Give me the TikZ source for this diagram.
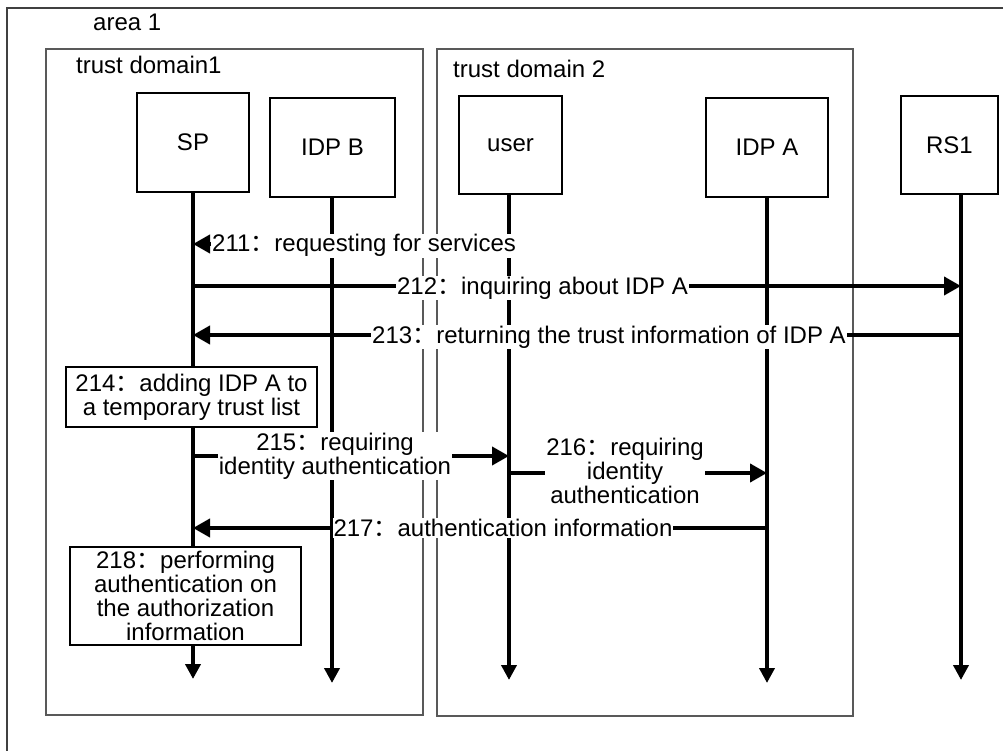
\documentclass[tikz,border=0pt]{standalone}
\usepackage{fontspec}
\setmainfont{Liberation Sans}
\newfontfamily\cjkfont{Noto Sans CJK SC}
\usetikzlibrary{arrows.meta}
\newcommand{\fwc}{{\cjkfont ：}}
\begin{document}
\begin{tikzpicture}[x=1pt,y=-1pt,
  font=\fontsize{24}{24}\selectfont,
  actor/.style={draw, line width=1.6pt, inner sep=0pt},
  life/.style={line width=4pt, -{Triangle[length=15pt,width=15pt]}},
  msg/.style={line width=4pt, -{Triangle[length=17pt,width=18pt]}},
  lbl/.style={fill=white, inner sep=1pt, align=center},
  trustbox/.style={draw=black!65, line width=1.5pt},
  note/.style={draw, line width=1.6pt, fill=white, align=center, inner sep=0pt}
]
\useasboundingbox (0,0) rectangle (1005,751);
\fill[white] (0,0) rectangle (1005,751);

% area frame (open at right and bottom, cropped)
\draw[black!75, line width=1.5pt] (1003,8) -- (7,8) -- (7,751);
\node[anchor=base west, inner sep=0pt] (area) at (93,31) {area 1};

% trust domains
\draw[trustbox] (46,49) rectangle (423,715);
\draw[trustbox] (437,49) rectangle (853,716);
\node[anchor=base west, inner sep=0pt] (td1) at (76,74) {trust domain1};
\node[anchor=base west, inner sep=0pt] (td2) at (453,78) {trust domain 2};

% actors
\node[actor, minimum width=112pt, minimum height=99pt] (SP) at (193,142.5) {SP};
\node[actor, minimum width=125pt, minimum height=99pt] (IDPB) at (332.5,147.5) {IDP B};
\node[actor, minimum width=103pt, minimum height=98pt] (user) at (510.5,145) {user};
\node[actor, minimum width=122pt, minimum height=99pt] (IDPA) at (767,147.5) {IDP A};
\node[actor, minimum width=97pt, minimum height=98pt] (RS1) at (949.5,145) {RS1};

% lifeline ends
\coordinate (spE) at (193,679);
\coordinate (ibE) at (332,683);
\coordinate (uE) at (509,680);
\coordinate (iaE) at (767,683);
\coordinate (rsE) at (961,680);

\draw[life] (SP.south -| spE) -- (spE);
\draw[life] (IDPB.south -| ibE) -- (ibE);
\draw[life] (user.south -| uE) -- (uE);
\draw[life] (IDPA.south -| iaE) -- (iaE);
\draw[life] (RS1.south -| rsE) -- (rsE);

% messages
\draw[msg] (spE |- 0,286) -- (rsE |- 0,286);
\draw[msg] (rsE |- 0,335) -- (spE |- 0,335);
\draw[msg] (spE |- 0,456) -- (uE |- 0,456);
\draw[msg] (uE |- 0,473) -- (iaE |- 0,473);
\draw[msg] (iaE |- 0,528) -- (spE |- 0,528);

% labels
\node[lbl, anchor=base west] (l211) at (211,252) {211\fwc requesting for services};
\draw[msg] (l211.west |- 0,244) -- (spE |- 0,244);
\node[lbl, anchor=base] (l212) at (542.5,294.5) {212\fwc inquiring about IDP A};
\node[lbl, anchor=base] (l213) at (609,343.5) {213\fwc returning the trust information of IDP A};
\node[lbl] (l215) at (335,456) {215\fwc requiring\\identity authentication};
\node[lbl] (l216) at (625,471) {216\fwc requiring\\identity\\authentication};
\node[lbl, anchor=base] (l217) at (503,536.5) {217\fwc authentication information};

% notes on SP
\node[note, minimum width=251pt, minimum height=60pt] (n214) at (191.5,397) {214\fwc adding IDP A to\\a temporary trust list};
\node[note, minimum width=231pt, minimum height=98pt] (n218) at (185.5,596) {218\fwc performing\\authentication on\\the authorization\\information};
\end{tikzpicture}
\end{document}
